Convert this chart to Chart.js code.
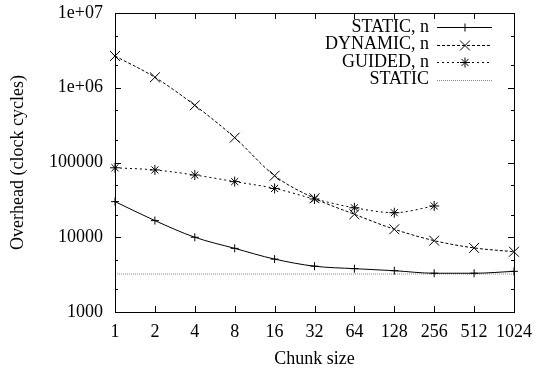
<!DOCTYPE html>
<html>
<head>
<meta charset="utf-8">
<script src="https://cdn.jsdelivr.net/npm/chart.js@4/dist/chart.umd.min.js"></script>
<style>
  html, body { margin: 0; padding: 0; background: #fff; }
  #wrap { width: 538px; height: 370px; }
</style>
</head>
<body>
<div id="wrap"><canvas id="myChart" width="538" height="370"></canvas></div>
<script>
// data
const chunkSizes = ["1", "2", "4", "8", "16", "32", "64", "128", "256", "512", "1024"];
const staticN  = [30000, 16700, 10000, 7100, 5100, 4100, 3800, 3570, 3300, 3300, 3500];
const dynamicN = [2660000, 1380000, 582000, 215000, 66500, 33200, 20300, 12800, 9000, 7200, 6400];
const guidedN  = [85000, 79500, 68000, 55500, 45000, 32500, 24800, 21300, 26200, null, null];
const staticBase = [3220, 3220, 3220, 3220, 3220, 3220, 3220, 3220, 3220, 3220, 3220];
const yTicks = [1000, 10000, 100000, 1000000, 10000000];
const yTickLabels = ["1000", "10000", "100000", "1e+06", "1e+07"];
const seriesNames = ["STATIC, n", "DYNAMIC, n", "GUIDED, n", "STATIC"];

const FONT = "'Liberation Serif', 'Times New Roman', serif";
const FSIZE = 18;

// gnuplot style frame + inward ticks + legend
const gnuplotLook = {
  id: "gnuplotLook",
  afterDraw(chart) {
    const ctx = chart.ctx;
    const a = chart.chartArea;
    const x = chart.scales.x;
    const y = chart.scales.y;
    ctx.save();
    ctx.strokeStyle = "#000";
    ctx.lineWidth = 1;
    ctx.setLineDash([]);

    // ticks on y (left and right)
    ctx.beginPath();
    yTicks.forEach((v, i) => {
      const py = Math.round(y.getPixelForValue(v)) + 0.5;
      ctx.moveTo(a.left, py); ctx.lineTo(a.left + 6, py);
      ctx.moveTo(a.right, py); ctx.lineTo(a.right - 6, py);
      if (i < yTicks.length - 1) {
        [2, 5].forEach(m => {
          const pm = Math.round(y.getPixelForValue(v * m)) + 0.5;
          ctx.moveTo(a.left, pm); ctx.lineTo(a.left + 3, pm);
          ctx.moveTo(a.right, pm); ctx.lineTo(a.right - 3, pm);
        });
      }
    });
    // ticks on x (bottom and top)
    chunkSizes.forEach((c, i) => {
      const px = Math.round(x.getPixelForValue(i)) + 0.5;
      ctx.moveTo(px, a.bottom); ctx.lineTo(px, a.bottom - 6);
      ctx.moveTo(px, a.top); ctx.lineTo(px, a.top + 6);
    });
    ctx.stroke();

    // frame
    ctx.strokeRect(Math.round(a.left) + 0.5, Math.round(a.top) + 0.5,
      Math.round(a.right - a.left), Math.round(a.bottom - a.top));

    // legend, text right aligned, sample to the right
    ctx.font = FSIZE + "px " + FONT;
    ctx.textAlign = "right";
    ctx.textBaseline = "middle";
    ctx.fillStyle = "#000";
    chart.data.datasets.forEach((ds, i) => {
      const ly = 27 + i * 17.5;
      ctx.fillText(seriesNames[i], 429, ly);
      ctx.save();
      ctx.strokeStyle = ds.borderColor;
      ctx.lineWidth = ds.borderWidth;
      ctx.setLineDash(ds.borderDash || []);
      ctx.beginPath();
      ctx.moveTo(437, Math.round(ly) + 0.5);
      ctx.lineTo(492, Math.round(ly) + 0.5);
      ctx.stroke();
      ctx.setLineDash([]);
      if (ds.pointRadius > 0) {
        ctx.strokeStyle = "#000";
        Chart.helpers.drawPoint(ctx, {
          pointStyle: ds.pointStyle, radius: ds.pointRadius,
          borderWidth: 1, rotation: 0
        }, 465, Math.round(ly) + 0.5);
      }
      ctx.restore();
    });
    ctx.restore();
  }
};

const data = {
  labels: chunkSizes,
  datasets: [
    {
      label: seriesNames[0],
      data: staticN,
      borderColor: "#000",
      borderWidth: 1,
      pointStyle: "cross",
      pointRadius: 4,
      pointBorderColor: "#000",
      pointBorderWidth: 1,
      cubicInterpolationMode: "monotone"
    },
    {
      label: seriesNames[1],
      data: dynamicN,
      borderColor: "#000",
      borderWidth: 1,
      borderDash: [3, 2],
      pointStyle: "crossRot",
      pointRadius: 7,
      pointBorderColor: "#000",
      pointBorderWidth: 1,
      cubicInterpolationMode: "monotone"
    },
    {
      label: seriesNames[2],
      data: guidedN,
      borderColor: "#000",
      borderWidth: 1,
      borderDash: [2, 3],
      pointStyle: "star",
      pointRadius: 5,
      pointBorderColor: "#000",
      pointBorderWidth: 1,
      cubicInterpolationMode: "monotone"
    },
    {
      label: seriesNames[3],
      data: staticBase,
      borderColor: "#888",
      borderWidth: 1,
      borderDash: [1, 1],
      pointRadius: 0
    }
  ]
};

const config = {
  type: "line",
  data: data,
  options: {
    responsive: false,
    animation: false,
    layout: { padding: { left: 0, top: 13, right: 24, bottom: 0 } },
    plugins: {
      legend: { display: false },
      tooltip: { enabled: false }
    },
    scales: {
      x: {
        type: "category",
        offset: false,
        grid: { display: false, drawTicks: false },
        border: { display: false },
        ticks: {
          color: "#000",
          font: { family: FONT, size: FSIZE },
          padding: 9,
          maxRotation: 0,
          autoSkip: false
        },
        title: {
          display: true,
          text: "Chunk size",
          color: "#000",
          font: { family: FONT, size: FSIZE },
          padding: { top: 2, bottom: 0 }
        },
        afterFit(scale) {
          scale.height = 58;
          scale.paddingLeft = 0;
          scale.paddingRight = 0;
        }
      },
      y: {
        type: "logarithmic",
        min: 1000,
        max: 10000000,
        grid: { display: false, drawTicks: false },
        border: { display: false },
        afterBuildTicks(scale) {
          scale.ticks = yTicks.map(v => ({ value: v }));
        },
        ticks: {
          color: "#000",
          font: { family: FONT, size: FSIZE },
          padding: 12,
          callback: (v) => {
            const i = yTicks.indexOf(v);
            return i >= 0 ? yTickLabels[i] : "";
          }
        },
        title: {
          display: true,
          text: "Overhead (clock cycles)",
          color: "#000",
          font: { family: FONT, size: FSIZE },
          padding: { top: 7, bottom: 0 }
        },
        afterFit(scale) {
          scale.width = 115;
          scale.paddingTop = 0;
          scale.paddingBottom = 0;
        }
      }
    }
  },
  plugins: [gnuplotLook]
};

const context = document.getElementById("myChart").getContext("2d");
const chart = new Chart(context, config);
</script>
</body>
</html>
